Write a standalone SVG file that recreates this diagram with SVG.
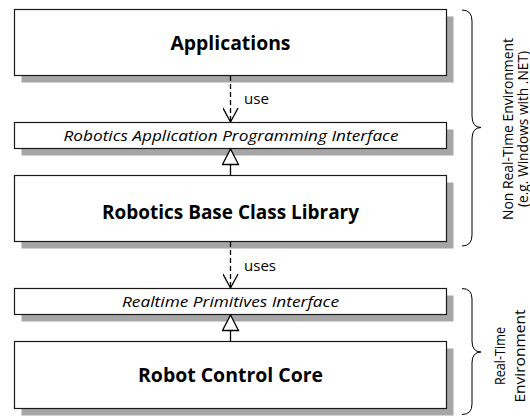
<svg xmlns="http://www.w3.org/2000/svg" width="530" height="416" viewBox="0 0 530 416">
<defs>
<style>
.box{fill:#fff;stroke:#1a1a1a;stroke-width:1.2}
.shadow{fill:#a6a6a6}
.big{font-family:"Open Sans","Liberation Sans",sans-serif;font-weight:bold;font-size:20px;fill:#000;text-anchor:middle}
.ital{font-family:"Open Sans","Liberation Sans",sans-serif;font-style:italic;font-size:15px;fill:#000;text-anchor:middle}
.lbl{font-family:"Open Sans","Liberation Sans",sans-serif;font-size:15px;fill:#000}
.side{font-family:"Open Sans","Liberation Sans",sans-serif;font-size:14px;fill:#000;text-anchor:middle}
.dash{fill:none;stroke:#000;stroke-width:1.3;stroke-dasharray:5,3}
.solid{fill:none;stroke:#000;stroke-width:1.3}
.brace{fill:none;stroke:#000;stroke-width:1}
</style>
<marker id="open" viewBox="0 0 16 16" refX="15" refY="8" markerWidth="16" markerHeight="16" markerUnits="userSpaceOnUse" orient="auto">
<path d="M1,0.5 L15,8 L1,15.5" fill="none" stroke="#000" stroke-width="1.3"/>
</marker>
<marker id="tri" viewBox="0 0 18 18" refX="16.5" refY="9" markerWidth="18" markerHeight="18" markerUnits="userSpaceOnUse" orient="auto">
<path d="M1,1 L16.5,9 L1,17 Z" fill="#fff" stroke="#000" stroke-width="1.3"/>
</marker>
</defs>

<g id="applications">
<rect class="shadow" x="21.5" y="16.5" width="432" height="66"/>
<rect class="box" x="14.5" y="9.5" width="432" height="66"/>
<text class="big" x="230.5" y="50" textLength="120" lengthAdjust="spacingAndGlyphs">Applications</text>
</g>

<g id="api">
<rect class="shadow" x="21.5" y="129.5" width="432" height="26"/>
<rect class="box" x="14.5" y="122.5" width="432" height="26"/>
<text class="ital" x="231" y="140.5" textLength="335" lengthAdjust="spacingAndGlyphs">Robotics Application Programming Interface</text>
</g>

<g id="rbcl">
<rect class="shadow" x="21.5" y="182.5" width="432" height="66"/>
<rect class="box" x="14.5" y="175.5" width="432" height="66"/>
<text class="big" x="230.5" y="218.5" textLength="257" lengthAdjust="spacingAndGlyphs">Robotics Base Class Library</text>
</g>

<g id="rpi">
<rect class="shadow" x="21.5" y="295.5" width="432" height="26"/>
<rect class="box" x="14.5" y="288.5" width="432" height="26"/>
<text class="ital" x="230.5" y="306.5" textLength="217" lengthAdjust="spacingAndGlyphs">Realtime Primitives Interface</text>
</g>

<g id="rcc">
<rect class="shadow" x="21.5" y="348.5" width="432" height="67"/>
<rect class="box" x="14.5" y="341.5" width="432" height="67"/>
<text class="big" x="230.5" y="382" textLength="185" lengthAdjust="spacingAndGlyphs">Robot Control Core</text>
</g>

<g id="connectors">
<line class="dash" x1="230.5" y1="76" x2="230.5" y2="122" marker-end="url(#open)"/>
<text class="lbl" x="244" y="104" textLength="25" lengthAdjust="spacingAndGlyphs">use</text>
<line class="solid" x1="230.5" y1="175.5" x2="230.5" y2="149" marker-end="url(#tri)"/>
<line class="dash" x1="230.5" y1="242" x2="230.5" y2="288" marker-end="url(#open)"/>
<text class="lbl" x="244" y="271" textLength="32" lengthAdjust="spacingAndGlyphs">uses</text>
<line class="solid" x1="230.5" y1="341.5" x2="230.5" y2="315" marker-end="url(#tri)"/>
</g>

<g id="brace-nonrt">
<path class="brace" d="M462,10 Q472,10 472,21 L472,116 Q472,127.5 481,127.5 Q472,127.5 472,139 L472,235 Q472,246 462,246"/>
<text class="side" transform="translate(507.5,129) rotate(-90)" x="0" y="5" textLength="182" lengthAdjust="spacingAndGlyphs">Non Real-Time Environment</text>
<text class="side" transform="translate(522.5,129) rotate(-90)" x="0" y="5" textLength="156" lengthAdjust="spacingAndGlyphs">(e.g. Windows with .NET)</text>
</g>

<g id="brace-rt">
<path class="brace" d="M462,288.5 Q472,288.5 472,299 L472,341 Q472,352 481,352 Q472,352 472,363 L472,404 Q472,414.5 462,414.5"/>
<text class="side" transform="translate(500,356) rotate(-90)" x="0" y="5" textLength="58" lengthAdjust="spacingAndGlyphs">Real-Time</text>
<text class="side" transform="translate(520,356) rotate(-90)" x="0" y="5" textLength="93" lengthAdjust="spacingAndGlyphs">Environment</text>
</g>
</svg>
